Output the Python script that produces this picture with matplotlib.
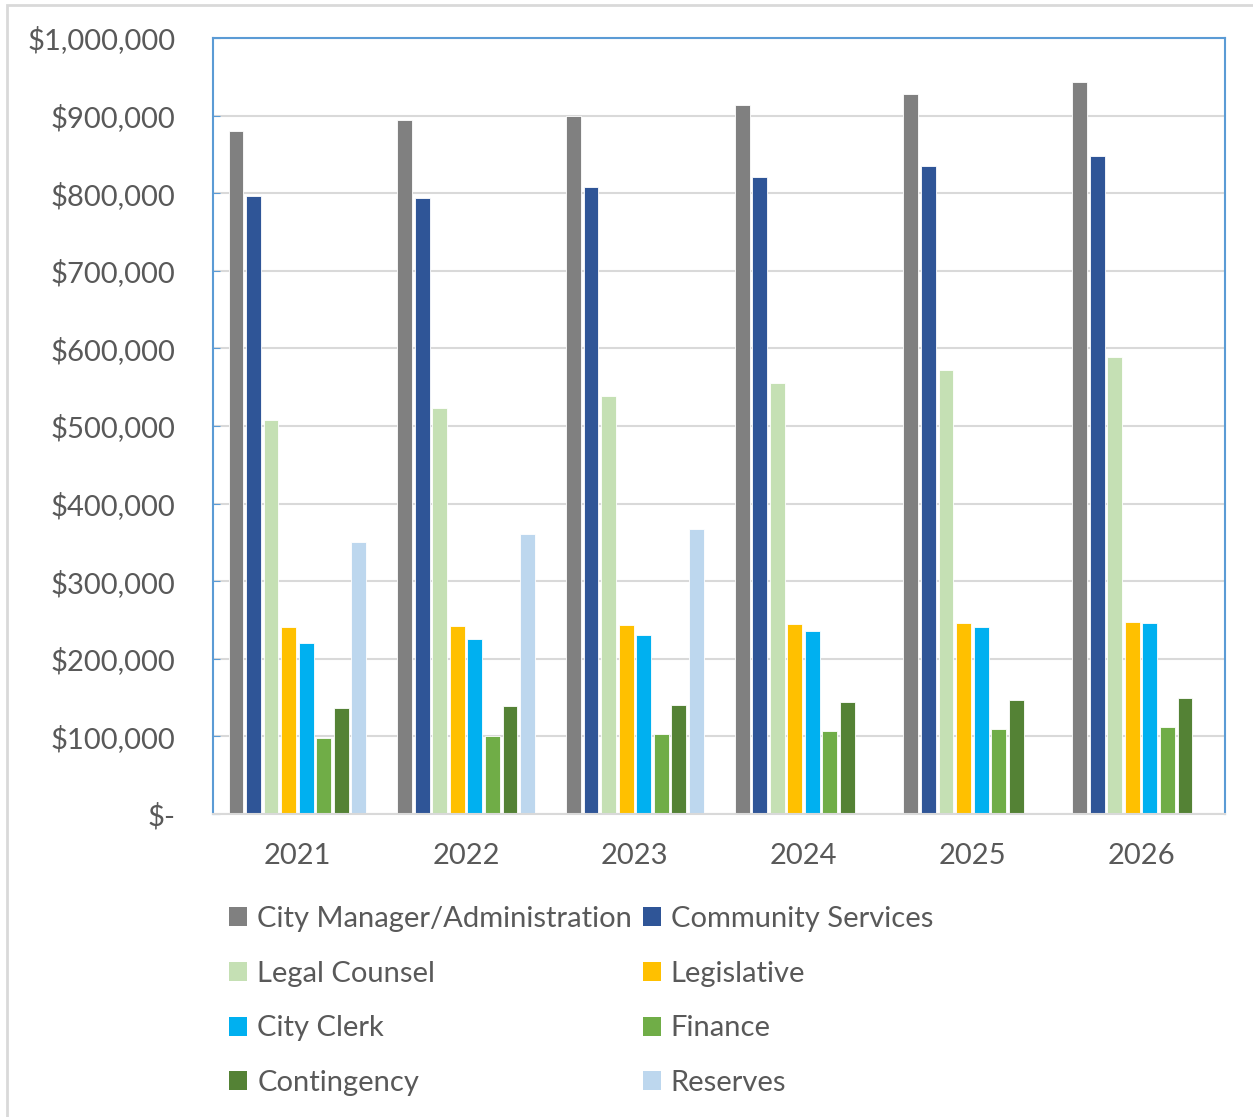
import numpy as np
import matplotlib.pyplot as plt
from matplotlib.patches import Rectangle

plt.rcParams['font.family'] = ['Lato', 'DejaVu Sans']

years = ['2021', '2022', '2023', '2024', '2025', '2026']

city_manager = [880000, 894000, 899000, 914000, 928000, 943000]
community_services = [796000, 794000, 808000, 821000, 835000, 848000]
legal_counsel = [508000, 523000, 539000, 555000, 572000, 589000]
legislative = [241000, 242000, 244000, 245000, 246000, 247000]
city_clerk = [220000, 226000, 231000, 236000, 241000, 246000]
finance = [98000, 100000, 103000, 107000, 110000, 112000]
contingency = [137000, 139000, 140000, 144000, 147000, 149000]
reserves = [351000, 361000, 367000, 0, 0, 0]

series = [
    ('City Manager/Administration', city_manager, '#808080'),
    ('Community Services', community_services, '#2F5597'),
    ('Legal Counsel', legal_counsel, '#C5E0B4'),
    ('Legislative', legislative, '#FFC000'),
    ('City Clerk', city_clerk, '#00B0F0'),
    ('Finance', finance, '#70AD47'),
    ('Contingency', contingency, '#548235'),
    ('Reserves', reserves, '#BDD7EE'),
]

text_c = '#595959'

fig = plt.figure(figsize=(12.53, 11.17), dpi=100)
ax = fig.add_axes([0.170, 0.2713, 0.808, 0.6947])

# outer chart border
fig.patches.append(Rectangle((0.0056, -0.01), 1.1, 1.0056, transform=fig.transFigure,
                             fill=False, edgecolor='#D9D9D9', linewidth=2))

x = np.arange(len(years))
step = 0.104
width = 0.088
handles = []
for i, (name, vals, col) in enumerate(series):
    offs = (i - 3.5) * step
    b = ax.bar(x + offs, vals, width=width, color=col, edgecolor='white',
               linewidth=0.6, label=name, zorder=3)
    handles.append(b)

ax.set_xlim(-0.5, 5.5)
ax.set_ylim(0, 1000000)
ax.set_yticks(np.arange(0, 1000001, 100000))
ax.set_yticklabels(['$-'] + ['${:,.0f}'.format(v) for v in np.arange(100000, 1000001, 100000)])
ax.set_xticks(x)
ax.set_xticklabels(years)
ax.grid(axis='y', color='#D9D9D9', linewidth=1.5, zorder=0)

for side in ['top', 'right', 'left']:
    ax.spines[side].set_color('#5B9BD5')
    ax.spines[side].set_linewidth(1.5)
ax.spines['bottom'].set_color('#D9D9D9')
ax.spines['bottom'].set_linewidth(1.5)
ax.spines['bottom'].set_zorder(4)

ax.tick_params(axis='y', direction='in', length=5, color='#5B9BD5', labelsize=21,
               labelcolor=text_c, pad=27)
ax.tick_params(axis='x', length=0, labelsize=21, labelcolor=text_c, pad=21)

# legend reads row by row: reorder for matplotlib's column-major fill
order = [0, 2, 4, 6, 1, 3, 5, 7]
leg = ax.legend([handles[k] for k in order], [series[k][0] for k in order],
                loc='upper left', bbox_to_anchor=(-0.010, -0.085), ncol=2, frameon=False,
                fontsize=21, labelcolor=text_c, handlelength=0.62, handleheight=0.62,
                handletextpad=0.35, columnspacing=0.35, labelspacing=0.98)
for h in leg.legend_handles:
    h.set_edgecolor('none')

fig.savefig('out.png', dpi=100)
